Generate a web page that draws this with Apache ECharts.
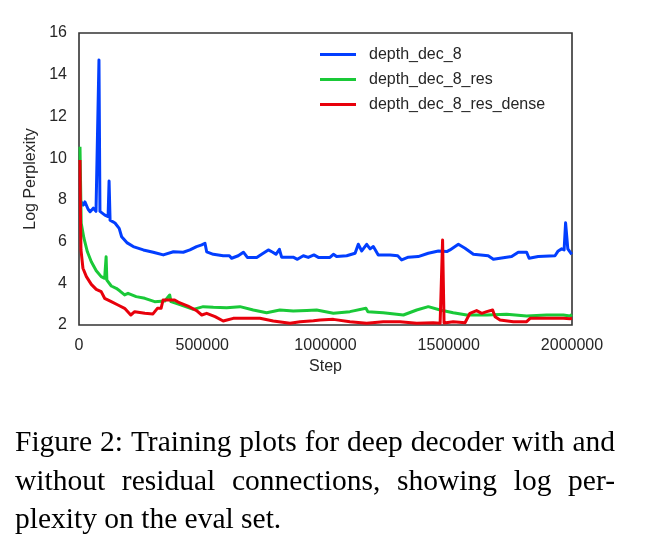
<!DOCTYPE html>
<html><head><meta charset="utf-8">
<script src="https://cdn.jsdelivr.net/npm/echarts@6/dist/echarts.min.js"></script>
<style>html,body{margin:0;padding:0;background:#fff}#c{width:653px;height:548px}</style>
</head><body><div id="c"></div>
<script>
const seriesNames = ['depth_dec_8', 'depth_dec_8_res', 'depth_dec_8_res_dense'];
const xTicks = [0, 500000, 1000000, 1500000, 2000000];
const yTicks = [2, 4, 6, 8, 10, 12, 14, 16];

const blueSteps = [4000,17000,24000,31000,37000,45000,58000,69000,77000,81000,85000,88000,105000,118000,122000,126000,146000,163000,173000,194000,220000,261000,301000,342000,383000,423000,450000,477000,498000,511000,518000,545000,585000,610000,619000,646000,667000,683000,721000,741000,768000,786000,799000,813000,822000,869000,886000,910000,930000,953000,971000,1018000,1032000,1045000,1086000,1120000,1133000,1147000,1167000,1181000,1194000,1214000,1262000,1293000,1309000,1336000,1376000,1417000,1458000,1492000,1505000,1512000,1539000,1566000,1600000,1660000,1681000,1728000,1755000,1782000,1816000,1826000,1863000,1931000,1944000,1958000,1968000,1974000,1983000,1999000,2000000];
const blueValues = [7.99,7.75,7.9,7.91,7.55,7.43,7.6,7.45,7.5,14.7,7.45,7.38,7.27,7.2,8.9,7.03,6.89,6.63,6.23,5.95,5.76,5.6,5.49,5.36,5.51,5.49,5.6,5.76,5.84,5.92,5.51,5.39,5.32,5.32,5.2,5.32,5.49,5.24,5.24,5.39,5.6,5.49,5.39,5.63,5.25,5.25,5.15,5.32,5.24,5.36,5.24,5.24,5.39,5.28,5.32,5.44,5.87,5.55,5.87,5.65,5.76,5.36,5.36,5.32,5.12,5.25,5.28,5.44,5.55,5.52,5.6,5.52,5.87,5.68,5.39,5.32,5.15,5.24,5.28,5.49,5.49,5.2,5.28,5.32,5.55,5.65,5.6,6.9,5.65,5.39,5.38];

const greenSteps = [4000,9000,20000,26000,34000,50000,70000,90000,104000,110000,113000,118000,131000,151000,165000,185000,199000,232000,267000,307000,348000,368000,373000,415000,464000,504000,545000,599000,653000,707000,761000,815000,869000,924000,964000,1032000,1099000,1164000,1172000,1234000,1316000,1370000,1417000,1465000,1518000,1573000,1654000,1735000,1816000,1897000,1965000,1992000,2000000];
const greenValues = [10.55,6.88,6.16,6.1,5.51,5.03,4.6,4.32,4.24,5.27,4.15,4.08,3.87,3.76,3.64,3.44,3.52,3.36,3.28,3.12,3.15,3.44,3.12,2.96,2.75,2.88,2.85,2.83,2.88,2.72,2.59,2.72,2.67,2.7,2.72,2.56,2.64,2.8,2.64,2.59,2.48,2.72,2.88,2.72,2.59,2.48,2.48,2.52,2.43,2.48,2.48,2.43,2.5];

const redSteps = [4000,6000,8000,16000,30000,50000,70000,90000,104000,131000,158000,185000,210000,226000,267000,300000,318000,333000,341000,388000,402000,442000,477000,498000,518000,552000,585000,626000,680000,734000,788000,856000,897000,951000,978000,1032000,1099000,1167000,1234000,1302000,1370000,1437000,1465000,1475000,1481000,1518000,1566000,1586000,1613000,1634000,1654000,1678000,1688000,1708000,1762000,1816000,1830000,1897000,1965000,1992000,2000000];
const redValues = [9.91,7.2,5.6,4.72,4.32,3.95,3.71,3.6,3.28,3.12,2.96,2.8,2.48,2.64,2.56,2.53,2.8,2.8,3.2,3.2,3.1,2.91,2.69,2.48,2.56,2.4,2.19,2.32,2.32,2.32,2.19,2.08,2.16,2.2,2.24,2.27,2.16,2.08,2.16,2.16,2.08,2.11,2.08,6.07,2.1,2.16,2.11,2.56,2.69,2.56,2.64,2.72,2.4,2.24,2.16,2.16,2.32,2.32,2.32,2.3,2.32];

const captionLines = [
  'Figure 2: Training plots for deep decoder with and',
  'without residual connections, showing log per-',
  'plexity on the eval set.'
];

const zip = (a, b) => a.map((v, i) => [v, b[i]]);
const colors = ['#023eff', '#1ac938', '#e8000b'];
const sans = '"Liberation Sans", Arial, sans-serif';
const serifFont = '29.5px "Liberation Serif", "Times New Roman", serif';

// caption layout (justified first two lines)
const cv = document.createElement('canvas').getContext('2d');
cv.font = serifFont;
const capLeft = 15, capRight = 615, capY = [443, 482, 520];
const graphics = [];
captionLines.forEach((line, li) => {
  const words = line.split(' ');
  const justify = li < captionLines.length - 1;
  const widths = words.map(w => cv.measureText(w).width);
  const total = widths.reduce((s, w) => s + w, 0);
  const gap = justify ? (capRight - capLeft - total) / (words.length - 1) : cv.measureText(' ').width;
  let x = capLeft;
  words.forEach((w, i) => {
    graphics.push({type: 'text', x: x, y: capY[li], style: {text: w, font: serifFont, fill: '#000', verticalAlign: 'middle', align: 'left'}});
    x += widths[i] + gap;
  });
});

const chart = echarts.init(document.getElementById('c'), null, {renderer: 'canvas'});
chart.setOption({
  animation: false,
  backgroundColor: '#fff',
  grid: {left: 79, top: 33, right: 81, bottom: 223, show: true, borderColor: '#333', borderWidth: 1.6, backgroundColor: 'transparent'},
  legend: {
    orient: 'vertical', left: 315, top: 41,
    itemWidth: 36, itemHeight: 3, itemGap: 8, icon: 'rect',
    textStyle: {fontFamily: sans, fontSize: 16, color: '#262626', lineHeight: 17, padding: [0, 0, 0, 8]},
    data: seriesNames
  },
  xAxis: {
    type: 'value', min: 0, max: 2000000, interval: 500000,
    name: 'Step', nameLocation: 'middle', nameGap: 34,
    nameTextStyle: {fontFamily: sans, fontSize: 16, color: '#262626'},
    axisLine: {show: false}, axisTick: {show: false}, splitLine: {show: false},
    axisLabel: {fontFamily: sans, fontSize: 16, color: '#262626', margin: 13,
      formatter: v => xTicks.includes(v) ? String(v) : ''}
  },
  yAxis: {
    type: 'value', min: 2, max: 16, interval: 2,
    name: 'Log Perplexity', nameLocation: 'middle', nameGap: 39,
    nameTextStyle: {fontFamily: sans, fontSize: 16, color: '#262626'},
    axisLine: {show: false}, axisTick: {show: false}, splitLine: {show: false},
    axisLabel: {fontFamily: sans, fontSize: 16, color: '#262626', margin: 12,
      formatter: v => yTicks.includes(v) ? String(v) : ''}
  },
  series: [
    {name: seriesNames[0], data: zip(blueSteps, blueValues)},
    {name: seriesNames[1], data: zip(greenSteps, greenValues)},
    {name: seriesNames[2], data: zip(redSteps, redValues)}
  ].map((s, i) => ({
    ...s, type: 'line', showSymbol: false, symbol: 'none', color: colors[i],
    lineStyle: {width: 3, color: colors[i], join: 'round'}, z: 3 + i,
    clip: true
  })),
  graphic: graphics
});
</script></body></html>
